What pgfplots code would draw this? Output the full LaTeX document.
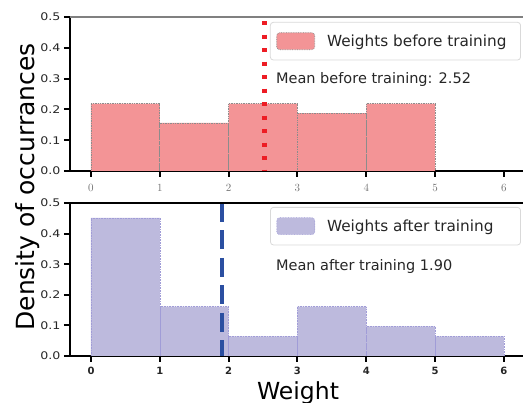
\documentclass[border=0pt]{standalone}
\usepackage{pgfplots}
\pgfplotsset{compat=1.18}
\usepackage{fontspec}
\setmainfont{DejaVu Sans}
\newfontfamily\tickfont[FakeStretch=1.2]{DejaVu Sans}
\newfontfamily\lmserif{lmroman10-regular.otf}
\definecolor{topfill}{RGB}{243,148,150}
\definecolor{botfill}{RGB}{189,186,221}
\definecolor{botedge}{RGB}{160,156,215}
\definecolor{meanred}{RGB}{237,28,36}
\definecolor{meanblue}{RGB}{43,79,161}
\begin{document}
\begin{tikzpicture}
\useasboundingbox (0,0) rectangle (523pt,403pt);
\pgfplotsset{
  common/.style={
    scale only axis, width=454.6pt, anchor=south west,
    xmin=-0.305, xmax=6.3, ymin=0, ymax=0.5,
    axis x line*=bottom, axis y line*=left,
    axis line style={-, line width=1.5pt, black},
    tick align=outside, major tick length=6pt,
    tick style={line width=2pt, black},
    xtick={0,1,2,3,4,5,6},
    ytick={0,0.1,0.2,0.3,0.4,0.5},
    yticklabels={0.0,0.1,0.2,0.3,0.4,0.5},
    yticklabel style={font=\tickfont\fontsize{10.5}{12}\selectfont, text=black!85},
    legend cell align=left,
  },
  leg/.style={
    draw=black!15, line width=0.8pt, rounded corners=3pt,
    font=\fontsize{15.3}{18}\selectfont, text=black!85, inner xsep=6pt, inner ysep=10pt},
}
\begin{axis}[common, at={(70pt,232pt)}, height=154pt,
  xticklabels={0,1,2,3,4,5,6},
  xticklabel style={font=\lmserif\fontsize{11}{12}\selectfont, text=black!55, yshift=-4pt},
  legend style={leg, at={(rel axis cs:0.992,0.968)}, anchor=north east},
]
\addplot[ybar interval, fill=topfill, draw=black!45, densely dotted, line width=0.7pt,
  legend image code/.code={\draw[fill=topfill, draw=black!45, densely dotted, line width=0.7pt] (0pt,-8.5pt) rectangle (38pt,8.5pt); \path (48pt,0pt);}]
  coordinates {(0,0.21875)(1,0.15625)(2,0.21875)(3,0.1875)(4,0.21875)(5,0.21875)};
\addlegendentry{Weights before training\rule{6pt}{0pt}}
\addplot[meanred, line width=5pt, dash pattern=on 4.2pt off 9.3pt, dash phase=9.3pt, forget plot]
  coordinates {(2.52,0.5)(2.52,0)};
\draw[black!50, line width=1.5pt] (rel axis cs:0,1) -- (rel axis cs:1,1);
\node[anchor=west, inner sep=0pt, font=\fontsize{14.5}{17}\selectfont, text=black!85]
  at (rel axis cs:0.453,0.591) {Mean before training: 2.52};
\end{axis}
\begin{axis}[common, at={(70pt,47pt)}, height=153pt,
  xticklabels={0,1,2,3,4,5,6},
  xticklabel style={font=\bfseries\fontsize{10}{12}\selectfont, text=black!85, yshift=-2pt},
  legend style={leg, at={(rel axis cs:0.992,0.974)}, anchor=north east},
]
\addplot[ybar interval, fill=botfill, draw=botedge, densely dotted, line width=0.6pt,
  legend image code/.code={\draw[fill=botfill, draw=botedge, densely dotted, line width=0.6pt] (0pt,-8.5pt) rectangle (38pt,8.5pt); \path (48pt,0pt);}]
  coordinates {(0,0.4516)(1,0.1613)(2,0.0645)(3,0.1613)(4,0.0968)(5,0.0645)(6,0.0645)};
\addlegendentry{Weights after training\rule{19pt}{0pt}}
\addplot[meanblue, line width=4.5pt, dash pattern=on 19pt off 8.5pt, forget plot]
  coordinates {(1.90,0.5)(1.90,0)};
\draw[black, line width=1.5pt] (rel axis cs:0,1) -- (rel axis cs:1,1);
\node[anchor=west, inner sep=0pt, font=\fontsize{14.5}{17}\selectfont, text=black!85]
  at (rel axis cs:0.453,0.588) {Mean after training 1.90};
\end{axis}
\node[rotate=90, font=\fontsize{25}{30}\selectfont] at (28pt,216pt) {Density of occurrances};
\node[anchor=base, inner sep=0pt, font=\fontsize{23.5}{28}\selectfont] at (298pt,3pt) {Weight};
\end{tikzpicture}
\end{document}
